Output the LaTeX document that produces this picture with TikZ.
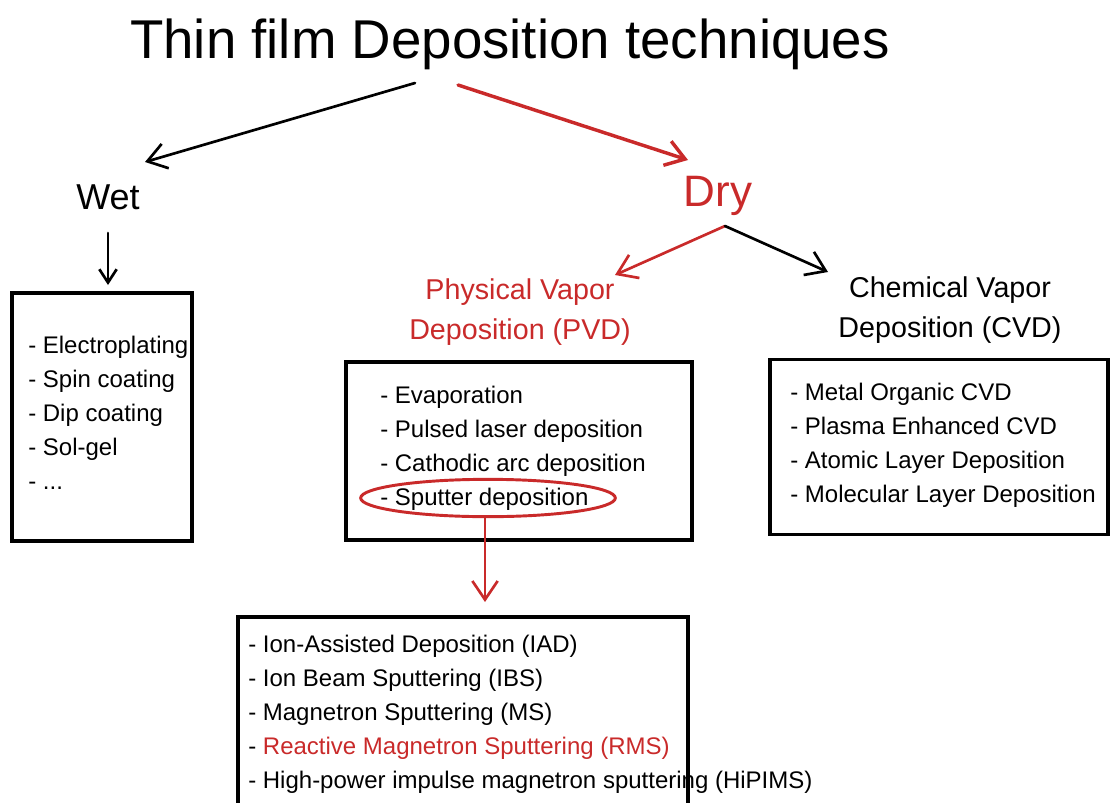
\documentclass[tikz,border=0pt]{standalone}
\usepackage{fontspec}
\setmainfont{Liberation Sans}
\usepackage{tikz}
\usetikzlibrary{shapes,arrows.meta,positioning,calc}
\usepackage{xcolor}
\definecolor{sketchred}{RGB}{201,42,42}

\begin{document}
\begin{tikzpicture}[
    x=0.75pt, y=-0.75pt,
    box/.style={rectangle, draw, line width=2.4pt, inner sep=0pt},
    list/.style={anchor=west, align=left, inner sep=0pt, font=\fontsize{18}{25.5}\selectfont},
    label/.style={align=center, inner sep=0pt, font=\fontsize{21.5}{30}\selectfont},
    arrow/.style={-{Straight Barb[length=14pt,width=19pt]}, line width=2pt, line cap=round, line join=round},
    smallarrow/.style={-{Straight Barb[length=10pt,width=13pt]}, line width=2pt, line cap=round, line join=round}
]
    \useasboundingbox (0,0) rectangle (1110,803);

    % Title and first split
    \node[inner sep=0pt, font=\fontsize{41}{48}\selectfont] (title) at (510,44) {Thin film Deposition techniques};
    \node[inner sep=0pt, font=\fontsize{27}{30}\selectfont] (wet) at (108,197) {Wet};
    \node[inner sep=0pt, font=\fontsize{33}{36}\selectfont, text=sketchred] (dry) at (718,196) {Dry};

    \draw[arrow] ($(title)+(-95,39)$) -- ($(wet)+(37,-35)$);
    \draw[arrow, sketchred, line width=2.6pt] ($(title)+(-52,41)$) -- ($(dry)+(-30,-36)$);

    % Wet methods
    \node[box, minimum width=135pt, minimum height=186pt] (wetbox) at (102,417) {};
    \node[list] (wetlist) at (28,413) {- Electroplating\\- Spin coating\\- Dip coating\\- Sol-gel\\- ...};
    \draw[smallarrow] ($(wet)+(0,36)$) -- ($(wetbox)+(6,-132)$);

    % Dry methods
    \node[label, text=sketchred] (pvd) at (520,312) {Physical Vapor\\Deposition (PVD)};
    \node[label] (cvd) at (950,310) {Chemical Vapor\\Deposition (CVD)};
    \draw[arrow, sketchred] ($(dry)+(7,30)$) -- ($(pvd)+(95,-37)$);
    \draw[arrow] ($(dry)+(7,30)$) -- ($(cvd)+(-122,-38)$);

    \node[box, minimum width=259.5pt, minimum height=133.5pt] (pvdbox) at (519,451) {};
    \node[list] (pvdlist) at (380,448) {- Evaporation\\- Pulsed laser deposition\\- Cathodic arc deposition\\- Sputter deposition};

    \node[box, minimum width=253.5pt, minimum height=131.25pt] (cvdbox) at (939,447) {};
    \node[list] (cvdlist) at (790,445) {- Metal Organic CVD\\- Plasma Enhanced CVD\\- Atomic Layer Deposition\\- Molecular Layer Deposition};

    % Sputtering
    \node[ellipse, draw=sketchred, line width=2.2pt, minimum width=191pt, minimum height=28pt] (sputter) at (488,498) {};
    \node[box, minimum width=337.5pt, minimum height=141pt] (sputbox) at (463,711) {};
    \node[list] (sputlist) at (248,714) {- Ion-Assisted Deposition (IAD)\\- Ion Beam Sputtering (IBS)\\- Magnetron Sputtering (MS)\\- \textcolor{sketchred}{Reactive Magnetron Sputtering (RMS)}\\- High-power impulse magnetron sputtering (HiPIMS)};
    \draw[arrow, sketchred] ($(sputter.south)+(-3,0)$) -- ($(sputbox)+(22,-109)$);

\end{tikzpicture}
\end{document}
